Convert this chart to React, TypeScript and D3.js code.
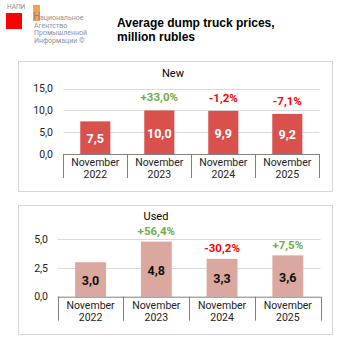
import React, { useRef, useEffect } from 'react';
import * as d3 from 'd3';

const categories = ['November 2022', 'November 2023', 'November 2024', 'November 2025'];
const newValues = [7.5, 10.0, 9.9, 9.2];
const newChanges: (number | null)[] = [null, 33.0, -1.2, -7.1];
const newTicks = [0, 5, 10, 15];
const usedValues = [3.0, 4.8, 3.3, 3.6];
const usedChanges: (number | null)[] = [null, 56.4, -30.2, 7.5];
const usedTicks = [0, 2.5, 5];

const fmt = (v: number) => v.toFixed(1).replace('.', ',');
const fmtPct = (v: number) => (v > 0 ? '+' : '') + v.toFixed(1).replace('.', ',') + '%';

interface PanelProps {
    title: string;
    values: number[];
    changes: (number | null)[];
    ticks: number[];
    box: { x: number; y: number; w: number; h: number };
    plot: { x0: number; x1: number; y0: number; y1: number };
    titlePos: { x: number; y: number };
    labelRight: number;
    barColor: string;
    valueColor: string;
    pctOffset: number;
}

const Panel: React.FC<PanelProps> = (p) => {
    const ref = useRef<SVGGElement>(null);

    useEffect(() => {
        if (!ref.current) return;
        const g = d3.select(ref.current);
        g.selectAll('*').remove();
        const font = 'Roboto, sans-serif';

        g.append('rect')
            .attr('x', p.box.x).attr('y', p.box.y)
            .attr('width', p.box.w).attr('height', p.box.h)
            .attr('fill', '#fff').attr('stroke', '#d6d6d6').attr('stroke-width', 1);

        g.append('text')
            .attr('x', p.titlePos.x).attr('y', p.titlePos.y)
            .attr('text-anchor', 'middle').attr('dominant-baseline', 'central')
            .attr('font-family', font).attr('font-size', 11).attr('fill', '#000')
            .text(p.title);

        const x = d3.scaleBand<string>()
            .domain(categories)
            .range([p.plot.x0, p.plot.x1])
            .paddingInner(0.53)
            .paddingOuter(0.265);

        const yMax = p.ticks[p.ticks.length - 1];
        const y = d3.scaleLinear().domain([0, yMax]).range([p.plot.y0, p.plot.y1]);

        // grid
        g.append('g')
            .selectAll('line')
            .data(p.ticks.filter(t => t > 0))
            .join('line')
            .attr('x1', p.plot.x0).attr('x2', p.plot.x1)
            .attr('y1', d => Math.round(y(d)) + 0.5).attr('y2', d => Math.round(y(d)) + 0.5)
            .attr('stroke', '#d9d9d9').attr('stroke-width', 1);

        // y labels
        g.append('g')
            .selectAll('text')
            .data(p.ticks)
            .join('text')
            .attr('x', p.labelRight)
            .attr('y', d => y(d))
            .attr('text-anchor', 'end').attr('dominant-baseline', 'central')
            .attr('font-family', font).attr('font-size', 10.5).attr('fill', '#222')
            .text(d => fmt(d));

        // bars
        g.append('g')
            .selectAll('rect')
            .data(p.values)
            .join('rect')
            .attr('x', (_, i) => x(categories[i])!)
            .attr('width', x.bandwidth())
            .attr('y', d => y(d))
            .attr('height', d => y(0) - y(d))
            .attr('fill', p.barColor);

        // value labels
        g.append('g')
            .selectAll('text')
            .data(p.values)
            .join('text')
            .attr('x', (_, i) => x(categories[i])! + x.bandwidth() / 2)
            .attr('y', d => (y(d) + y(0)) / 2 + 1)
            .attr('text-anchor', 'middle').attr('dominant-baseline', 'central')
            .attr('font-family', font).attr('font-weight', 'bold').attr('font-size', 12.5)
            .attr('fill', p.valueColor)
            .text(d => fmt(d));

        // change labels
        g.append('g')
            .selectAll('text')
            .data(p.changes.map((c, i) => ({ c, v: p.values[i], cat: categories[i] })).filter(d => d.c !== null))
            .join('text')
            .attr('x', d => x(d.cat)! + x.bandwidth() / 2)
            .attr('y', d => y(d.v) - p.pctOffset)
            .attr('text-anchor', 'middle').attr('dominant-baseline', 'central')
            .attr('font-family', font).attr('font-weight', 'bold').attr('font-size', 11.5)
            .attr('fill', d => (d.c! > 0 ? '#70AD47' : '#FF0000'))
            .text(d => fmtPct(d.c!));

        // x axis line and separators
        g.append('line')
            .attr('x1', p.plot.x0).attr('x2', p.plot.x1)
            .attr('y1', y(0) + 0.5).attr('y2', y(0) + 0.5)
            .attr('stroke', '#7f7f7f').attr('stroke-width', 1);

        const step = x.step();
        const bounds = d3.range(categories.length + 1).map(i => p.plot.x0 + i * step);
        g.append('g')
            .selectAll('line')
            .data(bounds)
            .join('line')
            .attr('x1', d => Math.round(d) + 0.5).attr('x2', d => Math.round(d) + 0.5)
            .attr('y1', y(0)).attr('y2', y(0) + 24)
            .attr('stroke', '#7f7f7f').attr('stroke-width', 1);

        // category labels
        const cl = g.append('g')
            .selectAll('text')
            .data(categories)
            .join('text')
            .attr('text-anchor', 'middle')
            .attr('font-family', font).attr('font-size', 10.5).attr('fill', '#222');
        cl.append('tspan')
            .attr('x', d => x(d)! + x.bandwidth() / 2)
            .attr('y', y(0) + 12)
            .text(d => d.split(' ')[0]);
        cl.append('tspan')
            .attr('x', d => x(d)! + x.bandwidth() / 2)
            .attr('y', y(0) + 24)
            .text(d => d.split(' ')[1]);
    }, [p]);

    return <g ref={ref} />;
};

const App: React.FC = () => {
    const logoLines = ['ациональное', 'Агентство', 'Промышленной', 'Информации ©'];
    return (
        <div style={{ position: 'fixed', left: 0, top: 0 }}>
            <svg width={353} height={353} viewBox="0 0 353 353" style={{ display: 'block' }}>
                <rect x={0} y={0} width={353} height={353} fill="#fff" />
                {/* logo */}
                <text x={7} y={8.5} fontFamily="Roboto, sans-serif" fontSize={6.5} fill="#888">НАПИ</text>
                <rect x={6} y={13} width={16} height={16} fill="#FF0000" />
                <rect x={33} y={5} width={7} height={16} fill="#F4A14A" />
                <text x={33} y={20} fontFamily="Roboto, sans-serif" fontSize={10} fill="#8a8a8a">Н</text>
                {logoLines.map((t, i) => (
                    <text key={t} x={i === 0 ? 40 : 34} y={20 + i * 7.7} fontFamily="Roboto, sans-serif" fontSize={7} fill="#8f8f9c">{t}</text>
                ))}
                {/* title */}
                <text x={117} y={27} fontFamily="'Liberation Sans', Arial, sans-serif" fontWeight="bold" fontSize={12} fill="#000">Average dump truck prices,</text>
                <text x={117} y={41} fontFamily="'Liberation Sans', Arial, sans-serif" fontWeight="bold" fontSize={12} fill="#000">million rubles</text>

                <Panel
                    title="New"
                    values={newValues}
                    changes={newChanges}
                    ticks={newTicks}
                    box={{ x: 18.5, y: 61.5, w: 314, h: 130 }}
                    plot={{ x0: 63.3, x1: 319.3, y0: 154, y1: 88.7 }}
                    titlePos={{ x: 173, y: 73 }}
                    labelRight={53}
                    barColor="#D9514D"
                    valueColor="#fff"
                    pctOffset={13}
                />
                <Panel
                    title="Used"
                    values={usedValues}
                    changes={usedChanges}
                    ticks={usedTicks}
                    box={{ x: 18.5, y: 205.5, w: 314, h: 129 }}
                    plot={{ x0: 57.7, x1: 320.7, y0: 296.7, y1: 239.3 }}
                    titlePos={{ x: 156, y: 216 }}
                    labelRight={48}
                    barColor="#DAA89F"
                    valueColor="#111"
                    pctOffset={10.5}
                />
            </svg>
        </div>
    );
};

export default App;
